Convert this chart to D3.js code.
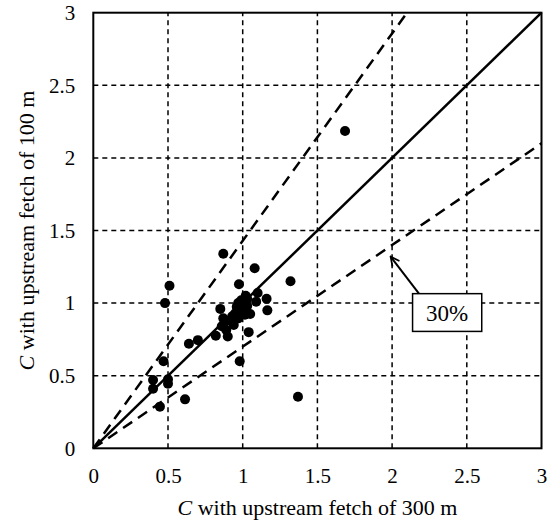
<!DOCTYPE html>
<html>
<head>
<meta charset="utf-8">
<script src="https://cdn.jsdelivr.net/npm/d3@7/dist/d3.min.js"></script>
<style>
  html, body { margin: 0; padding: 0; background: #fff; }
</style>
</head>
<body>
<svg id="chart" width="550" height="527"></svg>
<script>
// Concentration coefficient C: 300 m fetch (x) vs 100 m fetch (y)
const fetch300 = [1.685, 0.87, 1.08, 0.975, 1.32, 1.10, 1.16, 1.09, 1.165, 0.85,
                  0.51, 0.48, 0.64, 0.70, 0.82, 0.90, 0.89, 0.86, 0.87, 0.94,
                  0.97, 0.98, 1.00, 1.03, 0.99, 0.96, 1.015, 1.05, 1.04, 0.98,
                  0.47, 0.40, 0.40, 0.50, 0.50, 0.614, 0.446, 1.37, 1.01, 0.93,
                  0.95, 1.02, 0.92, 1.00, 0.97, 1.03, 0.88];
const fetch100 = [2.185, 1.34, 1.24, 1.13, 1.15, 1.07, 1.03, 1.01, 0.95, 0.96,
                  1.12, 1.00, 0.72, 0.745, 0.775, 0.77, 0.815, 0.84, 0.895, 0.85,
                  0.895, 0.95, 1.00, 1.03, 1.02, 0.975, 0.92, 0.925, 0.80, 0.60,
                  0.60, 0.47, 0.41, 0.475, 0.445, 0.337, 0.287, 0.355, 0.97, 0.91,
                  0.93, 1.05, 0.88, 0.94, 1.00, 0.98, 0.87];
const tickValues = [0, 0.5, 1, 1.5, 2, 2.5, 3];
const tickLabels = ["0", "0.5", "1", "1.5", "2", "2.5", "3"];
const band = 0.3;           // ±30 % band
const bandLabel = "30%";

const FONT = "Liberation Serif";
const svg = d3.select("#chart");
const plotL = 93.3, plotR = 541.5, plotT = 12.7, plotB = 448.3;

const x = d3.scaleLinear().domain([0, 3]).range([plotL, plotR]);
const y = d3.scaleLinear().domain([0, 3]).range([plotB, plotT]);

// dashed grid lines
const inner = tickValues.filter(v => v > 0 && v < 3);
svg.append("g").selectAll("line").data(inner).join("line")
  .attr("x1", d => x(d)).attr("x2", d => x(d))
  .attr("y1", y(0)).attr("y2", y(3))
  .attr("stroke", "#000").attr("stroke-width", 1.5).attr("stroke-dasharray", "5,4");
svg.append("g").selectAll("line").data(inner).join("line")
  .attr("y1", d => y(d)).attr("y2", d => y(d))
  .attr("x1", x(0)).attr("x2", x(3))
  .attr("stroke", "#000").attr("stroke-width", 1.5).attr("stroke-dasharray", "5,4");

// axes with tick labels
const xAxis = d3.axisBottom(x).tickValues(tickValues).tickSize(0).tickPadding(20)
  .tickFormat((d, i) => tickLabels[i]);
const yAxis = d3.axisLeft(y).tickValues(tickValues).tickSize(0).tickPadding(18)
  .tickFormat((d, i) => tickLabels[i]);
const gx = svg.append("g").attr("transform", `translate(0,${plotB})`).call(xAxis);
const gy = svg.append("g").attr("transform", `translate(${plotL},0)`).call(yAxis);
[gx, gy].forEach(g => {
  g.attr("font-family", FONT).attr("font-size", 21);
  g.select(".domain").remove();
  g.selectAll("text").attr("fill", "#000");
});

// 1:1 line and ±30 % band lines
const lineGen = d3.line().x(d => x(d[0])).y(d => y(d[1]));
svg.append("path").datum([[0, 0], [3, 3]]).attr("d", lineGen)
  .attr("fill", "none").attr("stroke", "#000").attr("stroke-width", 2.5);
svg.append("path").datum([[0, 0], [3 * (1 - band), 3]]).attr("d", lineGen)
  .attr("fill", "none").attr("stroke", "#000").attr("stroke-width", 2.5)
  .attr("stroke-dasharray", "11,7");
svg.append("path").datum([[0, 0], [3, 3 * (1 - band)]]).attr("d", lineGen)
  .attr("fill", "none").attr("stroke", "#000").attr("stroke-width", 2.5)
  .attr("stroke-dasharray", "11,7");

// plot border
svg.append("rect").attr("x", plotL).attr("y", plotT)
  .attr("width", plotR - plotL).attr("height", plotB - plotT)
  .attr("fill", "none").attr("stroke", "#000").attr("stroke-width", 2);

// data points
svg.append("g").selectAll("circle").data(fetch300).join("circle")
  .attr("cx", d => x(d)).attr("cy", (d, i) => y(fetch100[i]))
  .attr("r", 5).attr("fill", "#000");

// annotation: arrow pointing at the lower band line, and its boxed label
const defs = svg.append("defs");
defs.append("marker").attr("id", "arrow").attr("viewBox", "0 0 10 10")
  .attr("refX", 9).attr("refY", 5).attr("markerWidth", 11).attr("markerHeight", 11)
  .attr("markerUnits", "userSpaceOnUse").attr("orient", "auto")
  .append("path").attr("d", "M1,1 L9,5 L1,9").attr("fill", "none")
  .attr("stroke", "#000").attr("stroke-width", 1.6);
svg.append("line")
  .attr("x1", x(2.18)).attr("y1", y(1.065))
  .attr("x2", x(1.99)).attr("y2", y(1.32))
  .attr("stroke", "#000").attr("stroke-width", 2).attr("marker-end", "url(#arrow)");
const bx0 = x(2.137), bx1 = x(2.6), by0 = y(1.065), by1 = y(0.805);
svg.append("rect").attr("x", bx0).attr("y", by0)
  .attr("width", bx1 - bx0).attr("height", by1 - by0)
  .attr("fill", "#fff").attr("stroke", "#000").attr("stroke-width", 1.5);
svg.append("text").attr("x", (bx0 + bx1) / 2).attr("y", (by0 + by1) / 2 + 8)
  .attr("text-anchor", "middle").attr("font-family", FONT).attr("font-size", 23)
  .text(bandLabel);

// axis titles
const xt = svg.append("text").attr("x", (plotL + plotR) / 2).attr("y", 515)
  .attr("text-anchor", "middle").attr("font-family", FONT).attr("font-size", 22);
xt.append("tspan").attr("font-style", "italic").text("C");
xt.append("tspan").text(" with upstream fetch of 300 m");

const yt = svg.append("text")
  .attr("transform", `translate(34,${(plotT + plotB) / 2}) rotate(-90)`)
  .attr("text-anchor", "middle").attr("font-family", FONT).attr("font-size", 22);
yt.append("tspan").attr("font-style", "italic").text("C");
yt.append("tspan").text(" with upstream fetch of 100 m");
</script>
</body>
</html>
